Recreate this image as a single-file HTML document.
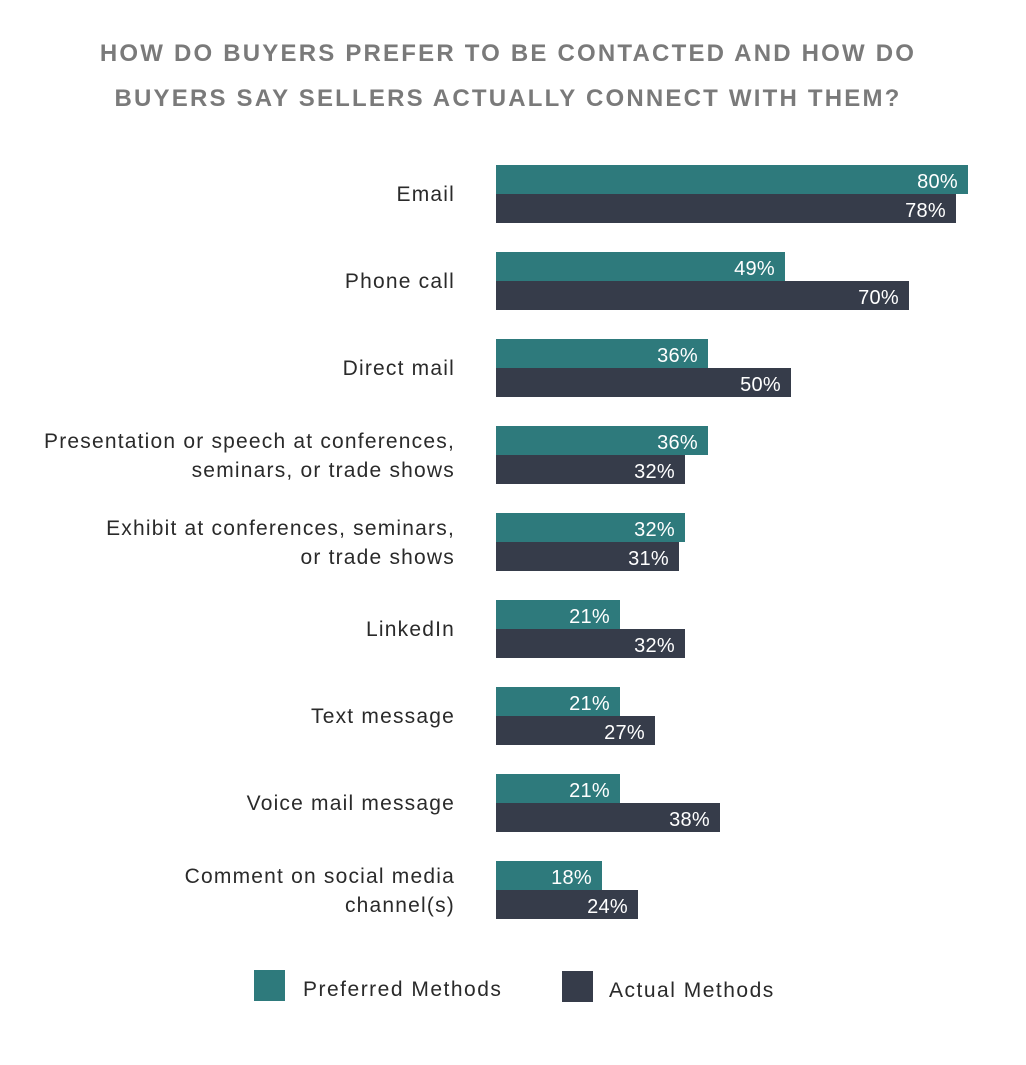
<!DOCTYPE html>
<html><head><meta charset="utf-8"><style>
html,body{margin:0;padding:0;background:#fff}
svg text{font-family:"Liberation Sans",sans-serif}
</style></head><body>
<svg width="1026" height="1060" xmlns="http://www.w3.org/2000/svg">
<g font-size="24" font-weight="bold" fill="#7a7a7a" text-anchor="middle" letter-spacing="2.2">
<text x="508" y="61">HOW DO BUYERS PREFER TO BE CONTACTED AND HOW DO</text>
<text x="508" y="106">BUYERS SAY SELLERS ACTUALLY CONNECT WITH THEM?</text>
</g>
<g>
<rect x="496" y="165" width="472" height="29" fill="#2e7a7c"/><rect x="496" y="194" width="460" height="29" fill="#363c4a"/>
<rect x="496" y="252" width="289" height="29" fill="#2e7a7c"/><rect x="496" y="281" width="413" height="29" fill="#363c4a"/>
<rect x="496" y="339" width="212" height="29" fill="#2e7a7c"/><rect x="496" y="368" width="295" height="29" fill="#363c4a"/>
<rect x="496" y="426" width="212" height="29" fill="#2e7a7c"/><rect x="496" y="455" width="189" height="29" fill="#363c4a"/>
<rect x="496" y="513" width="189" height="29" fill="#2e7a7c"/><rect x="496" y="542" width="183" height="29" fill="#363c4a"/>
<rect x="496" y="600" width="124" height="29" fill="#2e7a7c"/><rect x="496" y="629" width="189" height="29" fill="#363c4a"/>
<rect x="496" y="687" width="124" height="29" fill="#2e7a7c"/><rect x="496" y="716" width="159" height="29" fill="#363c4a"/>
<rect x="496" y="774" width="124" height="29" fill="#2e7a7c"/><rect x="496" y="803" width="224" height="29" fill="#363c4a"/>
<rect x="496" y="861" width="106" height="29" fill="#2e7a7c"/><rect x="496" y="890" width="142" height="29" fill="#363c4a"/>
</g>
<g font-size="20" fill="#fff" text-anchor="end" letter-spacing="0.3">
<text x="958" y="188">80%</text><text x="946" y="217">78%</text>
<text x="775" y="275">49%</text><text x="899" y="304">70%</text>
<text x="698" y="362">36%</text><text x="781" y="391">50%</text>
<text x="698" y="449">36%</text><text x="675" y="478">32%</text>
<text x="675" y="536">32%</text><text x="669" y="565">31%</text>
<text x="610" y="623">21%</text><text x="675" y="652">32%</text>
<text x="610" y="710">21%</text><text x="645" y="739">27%</text>
<text x="610" y="797">21%</text><text x="710" y="826">38%</text>
<text x="592" y="884">18%</text><text x="628" y="913">24%</text>
</g>
<g font-size="21" fill="#2a2a2a" text-anchor="end" letter-spacing="1.2">
<text x="455" y="201">Email</text>
<text x="455" y="288">Phone call</text>
<text x="455" y="375">Direct mail</text>
<text x="455" y="448">Presentation or speech at conferences,</text>
<text x="455" y="477">seminars, or trade shows</text>
<text x="455" y="535">Exhibit at conferences, seminars,</text>
<text x="455" y="564">or trade shows</text>
<text x="455" y="636">LinkedIn</text>
<text x="455" y="723">Text message</text>
<text x="455" y="810">Voice mail message</text>
<text x="455" y="883">Comment on social media</text>
<text x="455" y="912">channel(s)</text>
</g>
<g font-size="21" letter-spacing="1.5">
<rect x="254" y="970" width="31" height="31" fill="#2e7a7c"/>
<text x="303" y="996" fill="#2a2a2a">Preferred Methods</text>
<rect x="562" y="971" width="31" height="31" fill="#363c4a"/>
<text x="609" y="997" fill="#2a2a2a">Actual Methods</text>
</g>
</svg>
</body></html>
